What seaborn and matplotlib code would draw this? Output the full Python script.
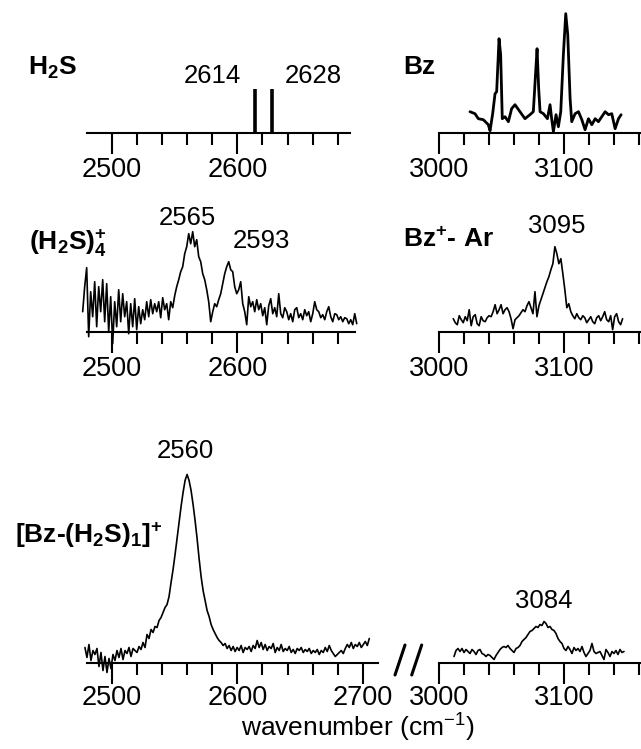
import numpy as np
import matplotlib
matplotlib.use("Agg")
import matplotlib.pyplot as plt
from matplotlib.lines import Line2D
import seaborn as sns

# ---- data (intensity in arbitrary units) ----
h2s_lines = [2614, 2628]
h2s_heights = [44, 44]

bz_wn = [3024.6, 3028.6, 3031.3, 3035.3, 3039.3, 3040.7, 3042.8, 3044.7, 3046.0, 3047.9,
         3049.2, 3050.5, 3052.7, 3055.4, 3058.0, 3060.7, 3064.7, 3068.7, 3072.7, 3075.4,
         3077.3, 3078.4, 3079.7, 3080.8, 3083.5, 3086.7, 3088.8, 3090.2, 3091.5, 3093.6,
         3095.5, 3097.4, 3099.5, 3101.4, 3103.0, 3104.9, 3106.2, 3108.9, 3111.6, 3114.3,
         3116.9, 3119.6, 3122.3, 3125.0, 3127.6, 3130.3, 3133.0, 3135.7, 3138.3, 3141.0,
         3143.7, 3145.8]
bz_int = [21, 19, 14, 13, 8, 2, 19, 39, 41, 94,
          78, 14, 16, 11, 24, 28, 21, 14, 18, 21,
          61, 84, 44, 21, 19, 14, 28, 13, 1, 18,
          6, 21, 78, 119, 98, 34, 11, 19, 21, 13,
          3, 14, 8, 14, 11, 16, 21, 18, 19, 4,
          14, 18]

h2s4_range = (2476.9, 2695.1)
h2s4_int = [20, 45, 64, -5, 40, 15, 50, 5, 45, 20, 52, 10, 48, 0, 35, -12, 30, 5, 42, 10,
            38, 15, 30, -2, 28, 5, 33, 2, 25, 8, 22, 12, 30, 15, 32, 18, 28, 20, 30, 14,
            34, 22, 28, 12, 30, 24, 36, 45, 52, 60, 65, 78, 85, 98, 88, 100, 85, 92, 75, 70,
            58, 52, 42, 30, 10, 20, 28, 25, 32, 38, 48, 58, 65, 70, 62, 60, 45, 38, 42, 50,
            28, 20, 7, 35, 25, 30, 20, 32, 22, 28, 16, 24, 7, 26, 33, 18, 24, 15, 38, 18,
            14, 24, 20, 12, 18, 10, 22, 24, 14, 18, 12, 22, 16, 20, 10, 18, 30, 22, 20, 14,
            17, 12, 20, 25, 15, 10, 18, 17, 12, 15, 10, 14, 13, 8, 12, 7, 18, 8]

bzar_range = (3011.2, 3147.0)
bzar_int = [13, 9, 7, 16, 12, 9, 15, 11, 22, 6, 15, 17, 8, 6, 15, 11, 10, 14, 16, 15,
            20, 27, 18, 22, 27, 18, 22, 24, 20, 13, 3, 12, 14, 16, 19, 22, 20, 26, 30, 24,
            18, 40, 15, 26, 32, 38, 44, 50, 55, 62, 68, 85, 78, 68, 73, 58, 42, 24, 28, 20,
            16, 13, 18, 14, 12, 16, 14, 9, 12, 15, 10, 8, 14, 16, 11, 15, 20, 12, 10, 16,
            2, 15, 18, 10, 7, 13]

bzh2s_range = (2478.7, 2705.1)
bzh2s_int = [15, 5, 18, 2, 12, 8, 14, -4, 10, -8, 6, -10, 4, -6, 8, 2, 12, 5, 14, 3,
             12, 9, 15, 6, 14, 12, 10, 16, 13, 20, 15, 28, 24, 33, 30, 36, 35, 42, 45, 50,
             55, 58, 66, 80, 93, 108, 124, 140, 156, 170, 182, 188, 182, 172, 158, 142, 124, 104, 86, 72,
             62, 52, 46, 38, 33, 29, 25, 22, 20, 17, 19, 14, 17, 12, 16, 11, 15, 12, 17, 10,
             15, 13, 16, 11, 17, 14, 22, 15, 20, 13, 18, 12, 16, 14, 19, 10, 15, 12, 18, 11,
             14, 12, 16, 10, 13, 9, 14, 12, 15, 10, 13, 11, 14, 9, 12, 10, 13, 8, 12, 10,
             15, 11, 17, 12, 9, 6, 8, 10, 12, 9, 14, 18, 15, 20, 14, 18, 16, 20, 15, 18,
             21, 17, 24]

bzh2s_r_range = (3011.8, 3148.1)
bzh2s_r_int = [6, 12, 14, 11, 14, 10, 13, 11, 9, 13, 11, 8, 12, 13, 9, 8, 6, 8, 7, 5,
               3, 7, 10, 13, 15, 16, 15, 17, 14, 12, 10, 14, 15, 17, 21, 23, 25, 28, 31, 32,
               34, 36, 35, 38, 37, 41, 39, 35, 36, 33, 32, 29, 24, 21, 19, 14, 12, 16, 13, 9,
               15, 12, 14, 11, 16, 10, 6, 9, 12, 19, 11, 9, 10, 11, 7, 3, 13, 10, 6, 11,
               9, 12, 8, 13, 10, 11]

left_major = [2500, 2600]
left_major3 = [2500, 2600, 2700]
left_minor = [2520, 2540, 2560, 2580, 2620, 2640, 2660, 2680]
right_major = [3000, 3100]
right_minor = [3020, 3040, 3060, 3080, 3120, 3140, 3160]

# ---- style ----
sns.set_style("ticks")
plt.rcParams['font.family'] = ['Liberation Sans', 'DejaVu Sans']
plt.rcParams['text.color'] = 'black'
plt.rcParams['xtick.color'] = 'black'
plt.rcParams['mathtext.fontset'] = 'custom'
plt.rcParams['mathtext.rm'] = 'Liberation Sans'
plt.rcParams['mathtext.bf'] = 'Liberation Sans:bold'
plt.rcParams['mathtext.it'] = 'Liberation Sans:italic'

W, H = 641, 749
fig = plt.figure(figsize=(W / 100, H / 100), dpi=100)


def px_axes(xlim, x0, x1, ybase, height, pad=2.5):
    ax = fig.add_axes([x0 / W, 1 - ybase / H, (x1 - x0) / W, height / H])
    ax.patch.set_visible(False)
    ax.set_xlim(*xlim)
    ax.set_ylim(0, height)
    for s in ["top", "left", "right"]:
        ax.spines[s].set_visible(False)
    ax.spines["bottom"].set_linewidth(1.5)
    ax.spines["bottom"].set_color("black")
    ax.set_yticks([])
    ax.tick_params(axis="x", which="both", bottom=True, top=False)
    ax.tick_params(axis="x", which="major", direction="out", length=15, width=1.5,
                   labelsize=19.5, pad=pad, color="black", labelcolor="black")
    ax.tick_params(axis="x", which="minor", direction="out", length=8.4, width=1.5,
                   color="black")
    return ax


def left_x(wn):
    return 111.7 + (wn - 2500) * 1.256


def right_x(wn):
    return 439.3 + (wn - 3000) * 1.247


def trace(ax, rng, vals, lw=1.2):
    wn = np.linspace(rng[0], rng[1], len(vals))
    sns.lineplot(x=wn, y=vals, ax=ax, color="black", lw=lw, estimator=None, sort=False)
    ax.lines[-1].set_clip_on(False)


def ticks(ax, major, minor):
    ax.set_xticks(major)
    ax.set_xticklabels([str(v) for v in major])
    ax.set_xticks(minor, minor=True)


# row 1
ax1 = px_axes((2480, 2690), left_x(2480), left_x(2690), 132.7, 120)
ax1.vlines(h2s_lines, 0, h2s_heights, color="black", lw=2.6)
ticks(ax1, left_major, left_minor)

ax2 = px_axes((3000, 3161), right_x(3000), right_x(3161), 132.7, 125)
sns.lineplot(x=bz_wn, y=bz_int, ax=ax2, color="black", lw=2.0, estimator=None, sort=False)
ax2.lines[-1].set_clip_on(False)
ticks(ax2, right_major, right_minor)

# row 2
ax3 = px_axes((2480, 2694), left_x(2480), left_x(2694), 331.7, 120)
trace(ax3, h2s4_range, h2s4_int)
ticks(ax3, left_major, left_minor)

ax4 = px_axes((3000, 3161), right_x(3000), right_x(3161), 331.7, 120)
trace(ax4, bzar_range, bzar_int)
ticks(ax4, right_major, right_minor)

# row 3
ax5 = px_axes((2480, 2712), left_x(2480), left_x(2712), 662.5, 200, pad=1.5)
trace(ax5, bzh2s_range, bzh2s_int)
ticks(ax5, left_major3, left_minor)

ax6 = px_axes((3000, 3161), right_x(3000), right_x(3161), 662.5, 100, pad=1.5)
trace(ax6, bzh2s_r_range, bzh2s_r_int)
ticks(ax6, right_major, right_minor)


def ftext(x, y, s, **kw):
    fig.text(x / W, 1 - y / H, s, **kw)


bold = dict(fontsize=19, fontweight="bold", va="baseline", ha="left")
num = dict(fontsize=18.5, va="baseline", ha="center")

ftext(28.5, 75, r"H$_\mathbf{2}$S", **bold)
ftext(212.5, 83.3, "2614", **num)
ftext(313, 83.3, "2628", **num)
ftext(403.3, 74, "Bz", **bold)

ftext(29, 250, r"(H$_\mathbf{2}$S)$_\mathbf{4}^\mathbf{+}$", **bold)
ftext(187.2, 225, "2565", **num)
ftext(261.3, 248.3, "2593", **num)
ftext(403.3, 246.7, r"Bz$^\mathbf{+}$- Ar", **bold)
ftext(556.7, 233.3, "3095", **num)

ftext(185.3, 458.3, "2560", **num)
ftext(15, 543.3, r"[Bz-(H$_\mathbf{2}$S)$_\mathbf{1}$]$^\mathbf{+}$", **bold)
ftext(543.7, 608.3, "3084", **num)

ftext(357.5, 737, r"wavenumber (cm$^{-1}$)", fontsize=19, ha="center", va="baseline")

# axis break marks
for xt, xb in [(405, 395), (421.7, 411.7)]:
    fig.add_artist(Line2D([xt / W, xb / W], [1 - 645 / H, 1 - 675 / H],
                          color="black", lw=2.2, transform=fig.transFigure))

fig.savefig("out.png", dpi=100)
